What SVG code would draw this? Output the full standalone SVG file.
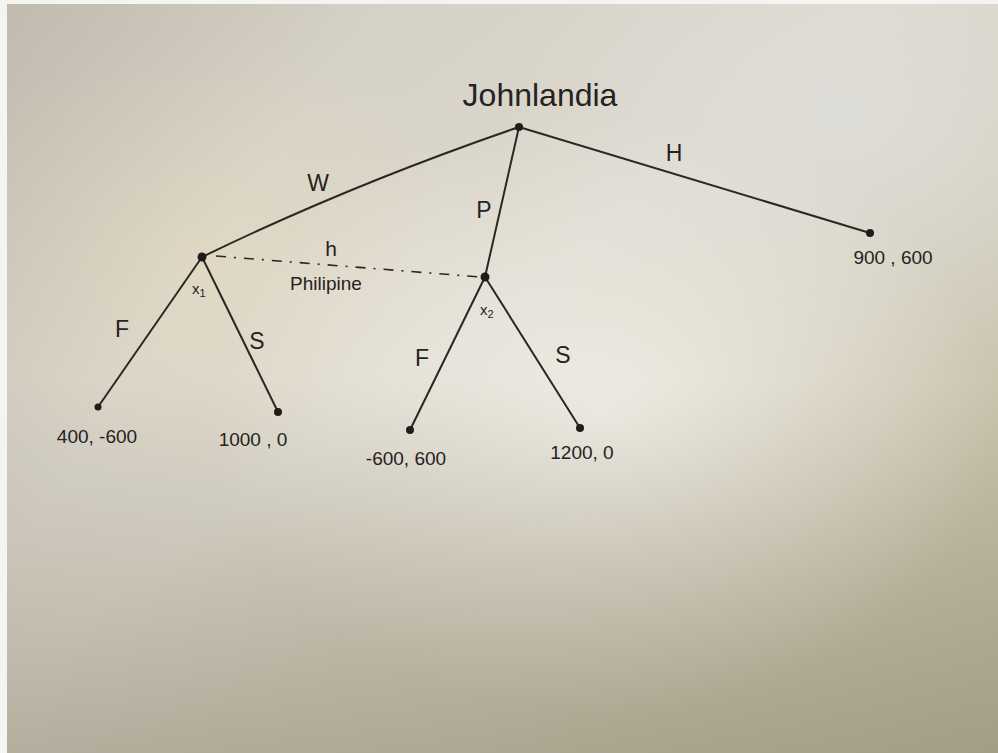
<svg xmlns="http://www.w3.org/2000/svg" width="998" height="753" viewBox="0 0 998 753">
  <defs>
    <linearGradient id="paper" x1="0" y1="0" x2="1" y2="1">
      <stop offset="0" stop-color="#d2ccc1"/>
      <stop offset="0.45" stop-color="#dcd8cd"/>
      <stop offset="0.75" stop-color="#cbc5b0"/>
      <stop offset="1" stop-color="#b5b094"/>
    </linearGradient>
    <linearGradient id="shadeL" x1="0" y1="0" x2="0.6" y2="0.3">
      <stop offset="0" stop-color="#8f8878" stop-opacity="0.25"/>
      <stop offset="0.5" stop-color="#8f8878" stop-opacity="0"/>
    </linearGradient>
    <linearGradient id="shadeB" x1="0" y1="0" x2="0" y2="1">
      <stop offset="0.5" stop-color="#9a9480" stop-opacity="0"/>
      <stop offset="1" stop-color="#948e7a" stop-opacity="0.55"/>
    </linearGradient>
    <radialGradient id="glow" cx="0.6" cy="0.55" r="0.4">
      <stop offset="0" stop-color="#f2efe8" stop-opacity="0.9"/>
      <stop offset="1" stop-color="#f2efe8" stop-opacity="0"/>
    </radialGradient>
    <radialGradient id="glowTR" cx="0.85" cy="0.15" r="0.35">
      <stop offset="0" stop-color="#e0dfdb" stop-opacity="0.8"/>
      <stop offset="1" stop-color="#e0dfdb" stop-opacity="0"/>
    </radialGradient>
    <radialGradient id="warm" cx="0.2" cy="0.35" r="0.3">
      <stop offset="0" stop-color="#e6dcc2" stop-opacity="0.6"/>
      <stop offset="1" stop-color="#e6dcc2" stop-opacity="0"/>
    </radialGradient>
  </defs>
  <style>
    .edge { stroke: #2a2724; stroke-width: 2; fill: none; stroke-linecap: round; }
    .info { stroke: #2a2724; stroke-width: 1.6; fill: none; stroke-dasharray: 10 8 2 8; }
    .dot { fill: #1f1c1a; }
    .t { font-family: "Liberation Sans", "DejaVu Sans", sans-serif; fill: #25221f; }
    .lbl { font-size: 23px; }
    .pay { font-size: 19px; }
    .sub { font-size: 15px; }
  </style>
  <rect x="0" y="0" width="998" height="753" fill="#f4f4f2"/>
  <rect x="7" y="4" width="991" height="749" fill="url(#paper)"/>
  <rect x="7" y="4" width="991" height="749" fill="url(#warm)"/>
  <rect x="7" y="4" width="991" height="749" fill="url(#glowTR)"/>
  <rect x="7" y="4" width="991" height="749" fill="url(#glow)"/>
  <rect x="7" y="4" width="991" height="749" fill="url(#shadeL)"/>
  <rect x="7" y="4" width="991" height="749" fill="url(#shadeB)"/>

  <g id="connectors">
    <path class="edge" d="M519,127 Q350,185 202,257"/>
    <path class="edge" d="M519,127 L485,277"/>
    <path class="edge" d="M519,127 L870,233"/>
    <path class="edge" d="M202,257 L98,407"/>
    <path class="edge" d="M202,257 L278,412"/>
    <path class="edge" d="M485,277 L410,430"/>
    <path class="edge" d="M485,277 L580,428"/>
    <path class="info" d="M216,256 L480,277"/>
    <text class="t lbl" x="318" y="191" text-anchor="middle">W</text>
    <text class="t lbl" x="484" y="218" text-anchor="middle">P</text>
    <text class="t lbl" x="674" y="161" text-anchor="middle">H</text>
    <text class="t lbl" x="122" y="337" text-anchor="middle">F</text>
    <text class="t lbl" x="257" y="349" text-anchor="middle">S</text>
    <text class="t lbl" x="422" y="366" text-anchor="middle">F</text>
    <text class="t lbl" x="563" y="363" text-anchor="middle">S</text>
    <text class="t" x="331" y="256" font-size="21" text-anchor="middle">h</text>
    <text class="t" x="326" y="290" font-size="19" text-anchor="middle">Philipine</text>
  </g>

  <g id="root">
    <circle class="dot" cx="519" cy="127" r="4"/>
    <text class="t" x="540" y="106" font-size="32" text-anchor="middle">Johnlandia</text>
  </g>
  <g id="x1">
    <circle class="dot" cx="202" cy="257" r="4.5"/>
    <text class="t sub" x="192" y="294">x<tspan font-size="11" dy="3">1</tspan></text>
  </g>
  <g id="x2">
    <circle class="dot" cx="485" cy="277" r="4.5"/>
    <text class="t sub" x="480" y="315">x<tspan font-size="11" dy="3">2</tspan></text>
  </g>
  <g id="leaf-H">
    <circle class="dot" cx="870" cy="233" r="4"/>
    <text class="t pay" x="893" y="264" text-anchor="middle">900 , 600</text>
  </g>
  <g id="leaf-x1-F">
    <circle class="dot" cx="98" cy="407" r="3.5"/>
    <text class="t pay" x="97" y="443" text-anchor="middle">400, -600</text>
  </g>
  <g id="leaf-x1-S">
    <circle class="dot" cx="278" cy="412" r="4"/>
    <text class="t pay" x="253" y="446" text-anchor="middle">1000 , 0</text>
  </g>
  <g id="leaf-x2-F">
    <circle class="dot" cx="410" cy="430" r="4"/>
    <text class="t pay" x="406" y="465" text-anchor="middle">-600, 600</text>
  </g>
  <g id="leaf-x2-S">
    <circle class="dot" cx="580" cy="428" r="4"/>
    <text class="t pay" x="582" y="459" text-anchor="middle">1200, 0</text>
  </g>
</svg>
